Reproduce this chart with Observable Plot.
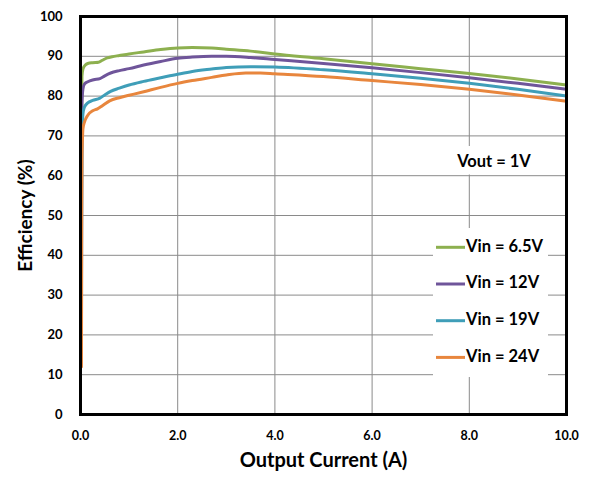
<!DOCTYPE html>
<html><head><meta charset="utf-8">
<script src="https://cdn.jsdelivr.net/npm/d3@7"></script>
<script src="https://cdn.jsdelivr.net/npm/@observablehq/plot@0.6"></script>
<style>body{margin:0;background:#fff}</style>
</head><body><div id="chart"></div>
<script>
const seriesNames = ["Vin = 6.5V", "Vin = 12V", "Vin = 19V", "Vin = 24V"];
const seriesColors = ["#8db04f", "#6f559a", "#3f9eb8", "#e8863d"];
const annotation = "Vout = 1V";
const xTicks = [0, 2, 4, 6, 8, 10];
const yTicks = [0, 10, 20, 30, 40, 50, 60, 70, 80, 90, 100];

const current_6p5V = [0.02,0.025,0.03,0.05,0.1,0.15,0.25,0.37,0.45,0.55,0.65,0.8,1.0,1.3,1.65,2.0,2.3,2.7,3.0,3.5,4.0,5.0,6.0,7.0,8.0,9.0,10.0];
const eff_6p5V     = [40,78,85,86.8,87.8,88.2,88.4,88.5,89.0,89.6,89.9,90.2,90.6,91.1,91.7,92.1,92.2,92.1,91.8,91.3,90.6,89.4,88.1,86.9,85.7,84.3,82.8];

const current_12V = [0.02,0.025,0.03,0.05,0.08,0.15,0.27,0.4,0.5,0.62,0.8,1.0,1.3,1.65,2.0,2.3,2.7,3.0,3.5,4.0,5.0,6.0,7.0,8.0,9.0,10.0];
const eff_12V     = [30,65,78,81.8,83.0,83.6,84.1,84.4,85.1,85.8,86.4,86.9,87.8,88.7,89.5,89.8,90.0,90.0,89.7,89.2,88.2,87.1,85.9,84.6,83.2,81.7];

const current_19V = [0.02,0.025,0.03,0.05,0.08,0.15,0.25,0.4,0.5,0.62,0.8,1.0,1.3,1.65,2.0,2.3,2.7,3.0,3.5,4.0,5.0,6.0,7.0,8.0,9.0,10.0];
const eff_19V     = [20,55,70,75.5,77.2,78.3,78.9,79.5,80.3,81.2,82.0,82.8,83.7,84.6,85.5,86.2,86.8,87.2,87.4,87.3,86.6,85.6,84.5,83.2,81.7,80.0];

const current_24V = [0.02,0.025,0.03,0.04,0.05,0.08,0.15,0.25,0.35,0.45,0.6,0.8,1.0,1.3,1.65,2.0,2.3,2.7,3.0,3.4,3.7,4.0,5.0,6.0,7.0,8.0,9.0,10.0];
const eff_24V     = [12,50,64,69,71.8,73.4,75.2,76.3,76.8,77.6,78.8,79.6,80.2,81.1,82.2,83.2,83.9,84.7,85.3,85.8,85.8,85.6,84.9,83.9,82.9,81.7,80.3,78.7];

const pairs = [[current_6p5V, eff_6p5V], [current_12V, eff_12V], [current_19V, eff_19V], [current_24V, eff_24V]];
const rows = [];
pairs.forEach(([xs, ys], i) => xs.forEach((x, j) => rows.push({series: seriesNames[i], current: x, eff: ys[j]})));

const font = "Lato, 'Open Sans', sans-serif";
const chart = Plot.plot({
  width: 596, height: 482,
  marginLeft: 80, marginRight: 30, marginTop: 16, marginBottom: 68,
  style: {fontFamily: font, background: "white", color: "black", overflow: "visible"},
  x: {domain: [0, 10]},
  y: {domain: [0, 100]},
  color: {domain: seriesNames, range: seriesColors},
  marks: [
    Plot.gridX(xTicks, {stroke: "#8a8a8a", strokeOpacity: 1, strokeWidth: 1}),
    Plot.gridY(yTicks, {stroke: "#8a8a8a", strokeOpacity: 1, strokeWidth: 1}),
    Plot.line(rows, {x: "current", y: "eff", z: "series", stroke: "series", strokeWidth: 3, curve: "monotone-x"}),
    Plot.axisX(xTicks, {tickSize: 0, tickPadding: 17, tickFormat: d => d.toFixed(1), fontSize: 12.5, fontWeight: "bold", label: null}),
    Plot.axisY(yTicks, {tickSize: 0, tickPadding: 18, fontSize: 13, fontWeight: "bold", label: null}),
    Plot.text(["Output Current (A)"], {frameAnchor: "bottom", dy: 46, lineAnchor: "middle", textAnchor: "middle", fontSize: 20, fontWeight: "bold", fill: "black"}),
    Plot.text(["Efficiency (%)"], {frameAnchor: "left", dx: -55, rotate: -90, lineAnchor: "middle", textAnchor: "middle", fontSize: 19, fontWeight: "bold", fill: "black"}),
    Plot.frame({stroke: "black", strokeWidth: 3})
  ]
});
document.getElementById("chart").appendChild(chart);

// in-plot legend and annotation
const svg = d3.select(chart);
const g = svg.append("g").attr("font-family", font).attr("font-weight", "bold").attr("font-size", 16.5).attr("fill", "black");
g.append("rect").attr("x", 445).attr("y", 146).attr("width", 100).attr("height", 28.5).attr("fill", "white");
g.append("text").attr("x", 494).attr("y", 163).attr("text-anchor", "middle").attr("dominant-baseline", "middle").text(annotation);
g.append("rect").attr("x", 433).attr("y", 228).attr("width", 115).attr("height", 149).attr("fill", "white");
seriesNames.forEach((name, i) => {
  const y = 247.3 + i * 36.7;
  g.append("line").attr("x1", 436).attr("x2", 465).attr("y1", y).attr("y2", y)
    .attr("stroke", seriesColors[i]).attr("stroke-width", 3);
  g.append("text").attr("x", 466).attr("y", y).attr("text-anchor", "start").attr("dominant-baseline", "middle").text(name);
});
</script>
</body></html>
